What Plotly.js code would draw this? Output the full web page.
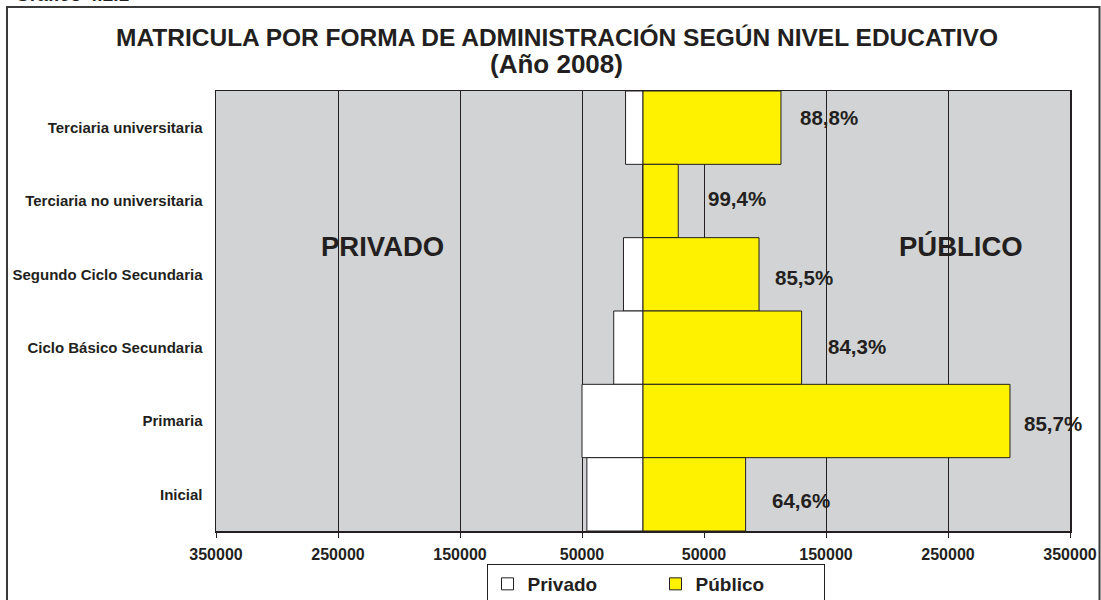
<!DOCTYPE html>
<html>
<head>
<meta charset="utf-8">
<script src="https://cdn.plot.ly/plotly-3.0.1.min.js"></script>
<style>
  html, body { margin: 0; padding: 0; background: #ffffff; }
  #chart { width: 1101px; height: 600px; }
</style>
</head>
<body>
<div id="chart"></div>
<script>
// ---- Data ----
var categories = ['Terciaria universitaria', 'Terciaria no universitaria', 'Segundo Ciclo Secundaria', 'Ciclo Básico Secundaria', 'Primaria', 'Inicial'];
var privado = [14300, 180, 16000, 24000, 50000, 46000];
var publico = [113100, 28900, 95100, 130000, 300800, 84100];
var porcentajes = ['88,8%', '99,4%', '85,5%', '84,3%', '85,7%', '64,6%'];
var tickValues = [-350000, -250000, -150000, -50000, 50000, 150000, 250000, 350000];
var tickLabels = ['350000', '250000', '150000', '50000', '50000', '150000', '250000', '350000'];

// ---- Styling / placement ----
var DARK = '#231F20';
var YELLOW = '#FFF200';
var BG = '#D1D3D4';
var FONT = 'Liberation Sans, Arial, sans-serif';
var labelXShift = [17, 28, 14, 24, 12, 24];
var labelYShift = [10, 3, -3, 1, -2, -6];

// plot area in px: x 216..1070, y 91..531
var L = 216, R = 1070, T = 91, B = 531, W = 1101, H = 600;
function xp(px) { return (px - L) / (R - L); }
function yp(py) { return (B - py) / (B - T); }

var privadoNeg = privado.map(function (v) { return -v; });

var traces = [
  {
    type: 'bar', orientation: 'h', name: 'Privado',
    y: categories, x: privadoNeg,
    marker: { color: '#FFFFFF', line: { color: DARK, width: 1 } },
    hovertemplate: '%{y}: %{customdata}<extra>Privado</extra>', customdata: privado
  },
  {
    type: 'bar', orientation: 'h', name: 'Público',
    y: categories, x: publico,
    marker: { color: YELLOW, line: { color: DARK, width: 1 } },
    hovertemplate: '%{y}: %{x}<extra>Público</extra>'
  }
];

var annotations = porcentajes.map(function (t, i) {
  return {
    x: publico[i], y: categories[i], xref: 'x', yref: 'y',
    text: t, showarrow: false, xanchor: 'left', yanchor: 'middle',
    xshift: labelXShift[i], yshift: labelYShift[i],
    font: { family: FONT, size: 20.5, color: DARK, weight: 'bold' }
  };
});

annotations.push(
  { x: xp(382), y: yp(246), xref: 'paper', yref: 'paper', text: 'PRIVADO', showarrow: false,
    xanchor: 'center', yanchor: 'middle', font: { family: FONT, size: 27.5, color: DARK, weight: 'bold' } },
  { x: xp(961), y: yp(246), xref: 'paper', yref: 'paper', text: 'PÚBLICO', showarrow: false,
    xanchor: 'center', yanchor: 'middle', font: { family: FONT, size: 27.5, color: DARK, weight: 'bold' } },
  { x: xp(556), y: yp(64), xref: 'paper', yref: 'paper', text: '(Año 2008)', showarrow: false,
    xanchor: 'center', yanchor: 'middle', font: { family: FONT, size: 26, color: DARK, weight: 'bold' } },
  { x: xp(13), y: yp(-5), xref: 'paper', yref: 'paper', text: 'Gráfico 4.2.1', showarrow: false,
    xanchor: 'left', yanchor: 'middle', font: { family: FONT, size: 19, color: DARK, weight: 'bold' } }
);

var layout = {
  width: W, height: H,
  margin: { l: L, r: W - R, t: T, b: H - B, pad: 0, autoexpand: false },
  paper_bgcolor: '#FFFFFF',
  plot_bgcolor: BG,
  font: { family: FONT, color: DARK },
  title: {
    text: 'MATRICULA POR FORMA DE ADMINISTRACIÓN SEGÚN NIVEL EDUCATIVO',
    x: 557 / W, xanchor: 'center', xref: 'container',
    y: 1 - 37 / H, yanchor: 'middle', yref: 'container',
    font: { family: FONT, size: 24.5, color: DARK, weight: 'bold' }
  },
  barmode: 'overlay',
  bargap: 0,
  showlegend: true,
  legend: {
    orientation: 'h', x: xp(655.5), xanchor: 'center', y: yp(584), yanchor: 'middle',
    xref: 'paper', yref: 'paper',
    bordercolor: DARK, borderwidth: 1, bgcolor: '#FFFFFF',
    font: { family: FONT, size: 19, color: DARK, weight: 'bold' },
    entrywidth: 123, entrywidthmode: 'pixels',
    traceorder: 'normal'
  },
  xaxis: {
    range: [-350000, 350000],
    tickmode: 'array', tickvals: tickValues, ticktext: tickLabels,
    ticks: 'outside', ticklen: 5, tickcolor: DARK, tickwidth: 1,
    ticklabelstandoff: 3,
    tickfont: { family: FONT, size: 16, color: DARK, weight: 'bold' },
    showgrid: true, gridcolor: DARK, gridwidth: 1,
    zeroline: false,
    showline: true, linecolor: DARK, linewidth: 1.5, mirror: true,
    fixedrange: true
  },
  yaxis: {
    type: 'category', autorange: 'reversed',
    ticks: '', ticklabelstandoff: 9,
    tickfont: { family: FONT, size: 15, color: DARK, weight: 'bold' },
    showgrid: false, zeroline: false,
    showline: true, linecolor: DARK, linewidth: 1.5, mirror: true,
    fixedrange: true
  },
  annotations: annotations,
  shapes: [
    { type: 'rect', xref: 'paper', yref: 'paper',
      x0: xp(7), x1: xp(1099.5), y0: yp(603), y1: yp(7),
      line: { color: '#3A3A3A', width: 2 }, fillcolor: 'rgba(0,0,0,0)', layer: 'above' }
  ]
};

Plotly.newPlot('chart', traces, layout, { displayModeBar: false, staticPlot: true });
</script>
</body>
</html>
